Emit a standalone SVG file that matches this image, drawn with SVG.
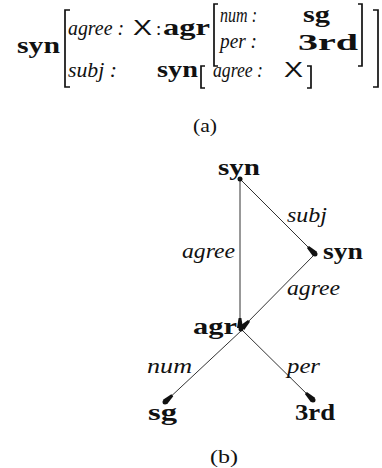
<svg xmlns="http://www.w3.org/2000/svg" width="382" height="468" viewBox="0 0 382 468">
<style>
.b{font-family:"Liberation Serif",serif;font-weight:bold;font-size:24px;fill:#111}
.i{font-family:"Liberation Serif",serif;font-style:italic;font-size:21px;fill:#111}
.s{font-family:"Liberation Sans",sans-serif;font-size:22px;fill:#111}
.r{font-family:"Liberation Serif",serif;font-size:19px;fill:#111}
.br{fill:none;stroke:#111;stroke-width:1.7}
.e{stroke:#333;stroke-width:1;fill:none;marker-end:url(#ah)}
.d{fill:#111}
</style>
<defs>
<marker id="ah" viewBox="0 0 10 6" refX="10" refY="3" markerWidth="10" markerHeight="6" markerUnits="userSpaceOnUse" orient="auto">
<path d="M0,1.6 L10,0 L10,6 L0,4.4 Z" fill="#111"/>
</marker>
</defs>
<g id="avm">
<text class="b" x="17" y="53" textLength="43" lengthAdjust="spacingAndGlyphs">syn</text>
<path class="br" d="M70,10 H65 V87 H70"/>
<text class="i" x="68" y="35" textLength="56" lengthAdjust="spacingAndGlyphs">agree :</text>
<text class="s" x="133" y="35" textLength="19" lengthAdjust="spacingAndGlyphs">X</text>
<text class="r" x="156" y="35">:</text>
<text class="b" x="163" y="35" textLength="47" lengthAdjust="spacingAndGlyphs">agr</text>
<path class="br" d="M218,4 H214 V66 H218"/>
<text class="i" x="220" y="22" textLength="37" lengthAdjust="spacingAndGlyphs">num :</text>
<text class="b" x="303" y="22" textLength="27" lengthAdjust="spacingAndGlyphs">sg</text>
<text class="i" x="220" y="48" textLength="37" lengthAdjust="spacingAndGlyphs">per :</text>
<text class="b" x="298" y="50" textLength="60" lengthAdjust="spacingAndGlyphs">3rd</text>
<path class="br" d="M358,4 H362 V66 H358"/>
<path class="br" d="M373,10 H378 V87 H373"/>
<text class="i" x="68" y="77" textLength="49" lengthAdjust="spacingAndGlyphs">subj :</text>
<text class="b" x="157" y="77" textLength="41" lengthAdjust="spacingAndGlyphs">syn</text>
<path class="br" d="M205,66 H201 V88 H205"/>
<text class="i" x="213" y="77" textLength="50" lengthAdjust="spacingAndGlyphs">agree :</text>
<text class="s" x="284" y="77" textLength="19" lengthAdjust="spacingAndGlyphs">X</text>
<path class="br" d="M307,66 H311 V88 H307"/>
<text class="r" x="193" y="132" textLength="24" lengthAdjust="spacingAndGlyphs">(a)</text>
</g>
<g id="edges">
<line class="e" x1="240" y1="179" x2="240" y2="328"/>
<line class="e" x1="240" y1="179" x2="315" y2="254"/>
<line class="e" x1="315" y1="254" x2="242" y2="328"/>
<line class="e" x1="242" y1="330" x2="165" y2="402"/>
<line class="e" x1="242" y1="330" x2="313" y2="400"/>
<text class="i" x="287" y="222" textLength="40" lengthAdjust="spacingAndGlyphs">subj</text>
<text class="i" x="182" y="258" textLength="53" lengthAdjust="spacingAndGlyphs">agree</text>
<text class="i" x="287" y="295" textLength="53" lengthAdjust="spacingAndGlyphs">agree</text>
<text class="i" x="147" y="373" textLength="45" lengthAdjust="spacingAndGlyphs">num</text>
<text class="i" x="287" y="373" textLength="33" lengthAdjust="spacingAndGlyphs">per</text>
</g>
<g id="n-syn"><circle class="d" cx="240" cy="179" r="2.5"/><text class="b" x="218" y="175" textLength="42" lengthAdjust="spacingAndGlyphs">syn</text></g>
<g id="n-syn2"><circle class="d" cx="315" cy="254" r="2.5"/><text class="b" x="323" y="259" textLength="40" lengthAdjust="spacingAndGlyphs">syn</text></g>
<g id="n-agr"><circle class="d" cx="241" cy="329" r="2.5"/><text class="b" x="193" y="334" textLength="44" lengthAdjust="spacingAndGlyphs">agr</text></g>
<g id="n-sg"><circle class="d" cx="165" cy="402" r="2.5"/><text class="b" x="148" y="420" textLength="29" lengthAdjust="spacingAndGlyphs">sg</text></g>
<g id="n-3rd"><circle class="d" cx="313" cy="400" r="2.5"/><text class="b" x="295" y="420" textLength="40" lengthAdjust="spacingAndGlyphs">3rd</text></g>
<text class="r" x="210" y="463" textLength="28" lengthAdjust="spacingAndGlyphs">(b)</text>
</svg>
